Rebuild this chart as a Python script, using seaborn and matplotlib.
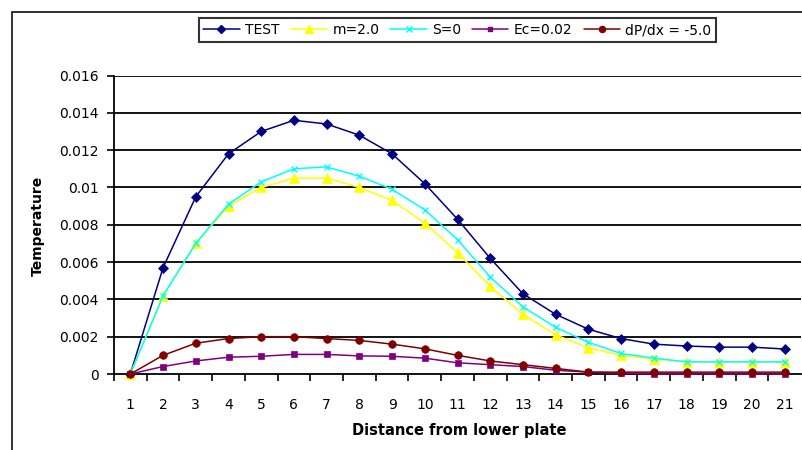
import matplotlib
matplotlib.use("Agg")
import matplotlib.pyplot as plt
from matplotlib.patches import Rectangle
from matplotlib.lines import Line2D
import seaborn as sns
import pandas as pd

# Distance from lower plate (grid node index)
distance = list(range(1, 22))

test = [0.0, 0.0057, 0.0095, 0.0118, 0.0130, 0.0136, 0.0134, 0.0128, 0.0118, 0.0102,
        0.0083, 0.0062, 0.0043, 0.0032, 0.0024, 0.0019, 0.0016, 0.0015, 0.00144, 0.00144, 0.00134]
m_2 = [0.0, 0.0042, 0.0070, 0.0090, 0.0100, 0.0105, 0.0105, 0.0100, 0.0093, 0.0081,
       0.0065, 0.0047, 0.0032, 0.0021, 0.0014, 0.0010, 0.0008, 0.00065, 0.00065, 0.00065, 0.00065]
s_0 = [0.0, 0.0042, 0.0070, 0.0091, 0.0103, 0.0110, 0.0111, 0.0106, 0.0099, 0.0088,
       0.0072, 0.0052, 0.0036, 0.0025, 0.0017, 0.0011, 0.00085, 0.00065, 0.00065, 0.00065, 0.00065]
ec_002 = [0.0, 0.0004, 0.0007, 0.0009, 0.00095, 0.00105, 0.00105, 0.00097, 0.00095, 0.00085,
          0.0006, 0.0005, 0.0004, 0.0002, 0.0001, 0.00005, 0.0, 0.0, 0.0, 0.0, 0.0]
dpdx_m5 = [0.0, 0.0010, 0.00165, 0.0019, 0.0020, 0.0020, 0.0019, 0.0018, 0.0016, 0.00135,
           0.0010, 0.0007, 0.0005, 0.0003, 0.0001, 0.0001, 0.0001, 0.0001, 0.0001, 0.0001, 0.0001]

series_names = ["TEST", "m=2.0", "S=0", "Ec=0.02", "dP/dx = -5.0"]
series_values = [test, m_2, s_0, ec_002, dpdx_m5]
y_ticks = [0, 0.002, 0.004, 0.006, 0.008, 0.01, 0.012, 0.014, 0.016]
y_tick_labels = ["0", "0.002", "0.004", "0.006", "0.008", "0.01", "0.012", "0.014", "0.016"]

colors = {"TEST": "#000080", "m=2.0": "#FFFF00", "S=0": "#00FFFF",
          "Ec=0.02": "#800080", "dP/dx = -5.0": "#800000"}
markers = {"TEST": "D", "m=2.0": "^", "S=0": "x", "Ec=0.02": "s", "dP/dx = -5.0": "o"}
msizes = {"TEST": 5.5, "m=2.0": 6.5, "S=0": 5, "Ec=0.02": 4, "dP/dx = -5.0": 5.5}

rows = []
for name, vals in zip(series_names, series_values):
    for d, v in zip(distance, vals):
        rows.append({"Distance": d, "Temperature": v, "Series": name})
df = pd.DataFrame(rows)

sns.set_theme(style="white")
plt.rcParams["font.family"] = ["DejaVu Sans"]
plt.rcParams["text.color"] = "black"
plt.rcParams["xtick.color"] = "black"
plt.rcParams["ytick.color"] = "black"
plt.rcParams["axes.labelcolor"] = "black"

fig = plt.figure(figsize=(8.02, 4.5), dpi=100)
W, H = 802, 450
ax = fig.add_axes([114 / W, 1 - 374 / H, (801 - 114) / W, (374 - 75.5) / H])

for name in series_names:
    sub = df[df["Series"] == name]
    sns.lineplot(data=sub, x="Distance", y="Temperature", ax=ax, color=colors[name],
                 marker=markers[name], markersize=msizes[name], markeredgecolor=colors[name],
                 markeredgewidth=1.0 if markers[name] == "x" else 0.5,
                 linewidth=1.1, legend=False, zorder=3, clip_on=False)

ax.set_xlim(0.5, 21.5)
ax.set_ylim(0, 0.016)
ax.set_yticks(y_ticks)
ax.set_yticklabels(y_tick_labels)
ax.set_xticks(distance)
ax.set_xticklabels([str(d) for d in distance])
ax.set_xticks([d + 0.5 for d in range(0, 21)], minor=True)

for y in y_ticks[1:]:
    ax.axhline(y, color="black", linewidth=1.3, zorder=1)

for side in ["top", "right"]:
    ax.spines[side].set_visible(False)
for side in ["left", "bottom"]:
    ax.spines[side].set_color("black")
    ax.spines[side].set_linewidth(1.3)

ax.tick_params(axis="y", which="major", direction="out", length=5, width=1.2,
               color="black", labelcolor="black", pad=6, labelsize=10, left=True)
ax.tick_params(axis="x", which="major", length=0, pad=17, labelsize=10,
               labelcolor="black", bottom=True)
ax.tick_params(axis="x", which="minor", direction="out", length=5, width=1.2,
               color="black", bottom=True)
ax.set_xlabel("")
ax.set_ylabel("")

fig.text(459 / W, 1 - 430 / H, "Distance from lower plate", ha="center", va="center",
         fontsize=10.5, fontweight="bold", color="black")
fig.text(38 / W, 1 - 226 / H, "Temperature", ha="center", va="center",
         rotation=90, fontsize=10, fontweight="bold", color="black")

handles = [Line2D([0], [0], color=colors[n], marker=markers[n], markersize=msizes[n] * 0.8,
                  markeredgecolor=colors[n], linewidth=1.1) for n in series_names]
leg = fig.legend(handles, series_names, loc="center", bbox_to_anchor=(457.5 / W, 1 - 30 / H),
                 ncol=5, frameon=True, fancybox=False, fontsize=10, handlelength=2.6,
                 handletextpad=0.4, columnspacing=0.8, borderpad=0.35, edgecolor="black")
leg.get_frame().set_linewidth(1.5)
for t in leg.get_texts():
    t.set_color("black")

# outer chart-area border
fig.add_artist(Rectangle((12 / W, -0.5), 2.0, 1.5 - 12 / H, transform=fig.transFigure,
                         fill=False, edgecolor="#222222", linewidth=1.3))

fig.savefig("out.png", dpi=100)
